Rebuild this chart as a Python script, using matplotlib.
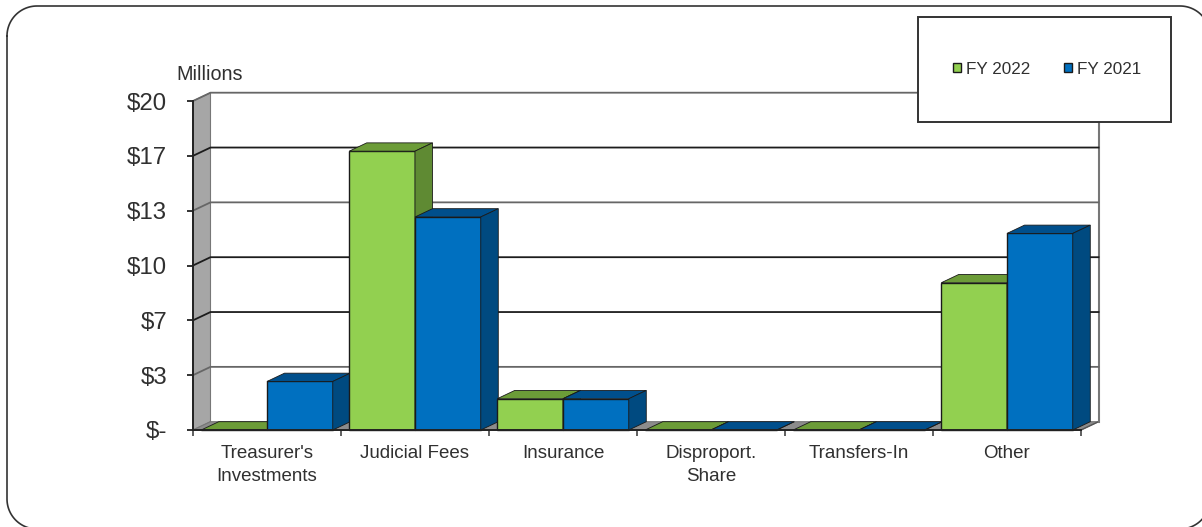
import matplotlib
matplotlib.use("Agg")
import matplotlib.pyplot as plt
import numpy as np
from matplotlib.patches import Patch, Rectangle

plt.rcParams["font.family"] = ["Liberation Sans", "DejaVu Sans"]

categories = ["Treasurer's\nInvestments", "Judicial Fees", "Insurance", "Disproport.\nShare", "Transfers-In", "Other"]
fy_2022 = [0, 16.95, 1.9, 0, 0, 8.95]
fy_2021 = [2.95, 12.95, 1.9, 0, 0, 11.95]
y_ticks = [0, 10 / 3, 20 / 3, 10, 40 / 3, 50 / 3, 20]
y_labels = ["$-", "$3", "$7", "$10", "$13", "$17", "$20"]

GREEN, GREEN_TOP, GREEN_SIDE = "#92D050", "#6C9C38", "#5F8A33"
BLUE, BLUE_TOP, BLUE_SIDE = "#0070C0", "#004F8C", "#004A80"
EDGE = "#1a1a1a"
TEXT = "#303030"

W, H = 1202, 527
fig = plt.figure(figsize=(W / 100, H / 100), dpi=100)
ax = fig.add_axes([193 / W, (H - 430) / H, 888 / W, 329 / H])
ax.set_xlim(0, len(categories))
ax.set_ylim(0, 20)
ax.patch.set_alpha(0)

# depth of the fake 3d box, in data units
dx = 17.5 / (888 / len(categories))
dy = 8.3 / (329 / 20)
nx = len(categories)

# walls and floor
ax.fill([0, dx, dx, 0], [0, dy, 20 + dy, 20], color="#A6A6A6", ec="#777777", lw=0.8, zorder=1, clip_on=False)
ax.fill([0, nx, nx + dx, dx], [0, 0, dy, dy], color="#8C8C8C", ec="#777777", lw=0.8, zorder=1, clip_on=False)
ax.plot([nx, nx + dx], [0, dy], color="#555555", lw=1, zorder=1, clip_on=False)
ax.plot([nx + dx, nx + dx], [dy, 20 + dy], color="#777777", lw=1.5, zorder=1, clip_on=False)

for i, t in enumerate(y_ticks):
    if t == 0:
        continue
    c = "#666666" if i % 3 == 1 or t == 20 else "#1c1c1c"
    ax.plot([0, dx, nx + dx], [t, t + dy, t + dy], color=c, lw=1.3, zorder=2, clip_on=False,
            solid_joinstyle="miter")

bar_w = 1 / 2.25
gap = (1 - 2 * bar_w) / 2


def draw_bar(x0, val, front, top, side, z):
    x1 = x0 + bar_w
    ax.bar(x0, val, width=bar_w, align="edge", color=front, ec=EDGE, lw=1, zorder=z, clip_on=False)
    ax.fill([x0, x1, x1 + dx, x0 + dx], [val, val, val + dy, val + dy], color=top, ec=EDGE, lw=0.6,
            zorder=z, clip_on=False)
    ax.fill([x1, x1 + dx, x1 + dx, x1], [0, dy, val + dy, val], color=side, ec=EDGE, lw=0.6,
            zorder=z, clip_on=False)


z = 3
for i in range(nx):
    draw_bar(i + gap, fy_2022[i], GREEN, GREEN_TOP, GREEN_SIDE, z)
    draw_bar(i + gap + bar_w, fy_2021[i], BLUE, BLUE_TOP, BLUE_SIDE, z + 1)
    z += 2

for s in ["top", "right"]:
    ax.spines[s].set_visible(False)
for s in ["left", "bottom"]:
    ax.spines[s].set_color("#222222")
    ax.spines[s].set_linewidth(1.4)
    ax.spines[s].set_zorder(30)

ax.set_yticks(y_ticks)
ax.set_yticklabels(y_labels, fontsize=17.3, color=TEXT)
ax.tick_params(axis="y", length=4.3, width=1.3, color="#222222", pad=14.4)
ax.set_xticks(np.arange(nx + 1))
ax.set_xticklabels([])
ax.tick_params(axis="x", length=4.3, width=1.2, color="#444444")
ax.set_xticks(np.arange(nx) + 0.5, minor=True)
ax.set_xticklabels(categories, minor=True, fontsize=13.5, color=TEXT, linespacing=1.5)
ax.tick_params(axis="x", which="minor", length=0, pad=10.5)

# overlay in pixels for the rounded border, unit label and legend box
over = fig.add_axes([0, 0, 1, 1], zorder=10)
over.set_xlim(0, W)
over.set_ylim(H, 0)
over.axis("off")

# border runs off the right and bottom of the canvas, sampled so clipping stays clean
left, top, right, bottom, r = 7, 6, 1210, 529, 30
t = np.linspace(0, np.pi / 2, 30)
bx = np.concatenate([left + r - r * np.cos(t), right - r + r * np.sin(t),
                     right - r + r * np.cos(t), left + r - r * np.sin(t), [left]])
by = np.concatenate([top + r - r * np.sin(t), top + r - r * np.cos(t),
                     bottom - r + r * np.sin(t), bottom - r + r * np.cos(t), [top + r]])
over.plot(bx, by, color="#333333", lw=1.2)

over.text(176.5, 75, "Millions", fontsize=14.2, color=TEXT, va="center", ha="left")
over.add_patch(Rectangle((918, 17), 253, 105, fc="white", ec="#333333", lw=1.4))
handles = [Patch(fc=GREEN, ec=EDGE, lw=1), Patch(fc=BLUE, ec=EDGE, lw=1)]
over.legend(handles, ["FY 2022", "FY 2021"], ncol=2, frameon=False, fontsize=12.3, labelcolor=TEXT,
            loc="center", bbox_to_anchor=(1047, 69), bbox_transform=over.transData,
            handlelength=0.47, handleheight=0.47, handletextpad=0.3, columnspacing=2.0)

fig.savefig("out.png", dpi=100, facecolor="white")
